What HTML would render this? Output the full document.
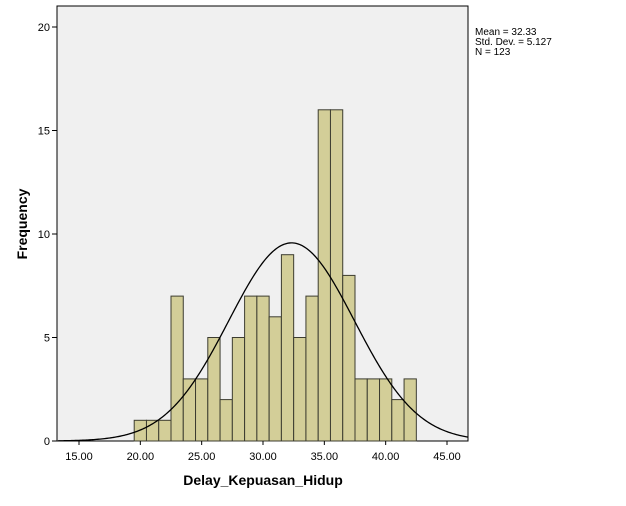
<!DOCTYPE html>
<html><head><meta charset="utf-8"><style>
body{margin:0;background:#fff;width:626px;height:501px;overflow:hidden;font-family:"Liberation Sans",sans-serif}
</style></head><body>
<svg width="626" height="501" xmlns="http://www.w3.org/2000/svg">
<rect x="57" y="6" width="411" height="435" fill="#f0f0f0" stroke="#000" stroke-width="1"/>
<g id="bars"></g>
<path id="curve" fill="none" stroke="#000" stroke-width="1.3"/>
<g id="xt"></g><g id="yt"></g>
<text x="263" y="485" font-size="14" font-weight="bold" text-anchor="middle">Delay_Kepuasan_Hidup</text>
<text transform="translate(27,224) rotate(-90)" font-size="14" font-weight="bold" text-anchor="middle">Frequency</text>
<g font-size="10">
<text x="475" y="35">Mean = 32.33</text>
<text x="475" y="45">Std. Dev. = 5.127</text>
<text x="475" y="55">N = 123</text>
</g>
</svg>
<script>
const binCenters=[20,21,22,23,24,25,26,27,28,29,30,31,32,33,34,35,36,37,38,39,40,41,42];
const counts=[1,1,1,7,3,3,5,2,5,7,7,6,9,5,7,16,16,8,3,3,3,2,3];
const xTicks=[15,20,25,30,35,40,45];
const xTickLabels=["15.00","20.00","25.00","30.00","35.00","40.00","45.00"];
const yTicks=[0,5,10,15,20];
const mean=32.33, sd=5.127, n=123, binWidth=1;
const X=v=>79+(v-15)*368/30;
const Y=v=>441-v*(414/20);
const ns="http://www.w3.org/2000/svg";
const bars=document.getElementById('bars');
binCenters.forEach((c,i)=>{
 const r=document.createElementNS(ns,'rect');
 
 
 r.setAttribute('x',X(c-binWidth/2));r.setAttribute('width',X(c+binWidth/2)-X(c-binWidth/2));
 r.setAttribute('y',Y(counts[i]));r.setAttribute('height',Y(0)-Y(counts[i]));
 r.setAttribute('fill','#d3ce98');r.setAttribute('stroke','#3c3c30');r.setAttribute('stroke-width','1');
 bars.appendChild(r);
});
let d='';
for(let x=13.3;x<=46.8;x+=0.1){
 const y=n*binWidth/(sd*Math.sqrt(2*Math.PI))*Math.exp(-0.5*((x-mean)/sd)**2);
 d+=(d?'L':'M')+X(x).toFixed(2)+','+Y(y).toFixed(2);
}
document.getElementById('curve').setAttribute('d',d);
const xt=document.getElementById('xt');
xTicks.forEach((t,i)=>{
 const l=document.createElementNS(ns,'line');
 
 
 l.setAttribute('x1',X(t));l.setAttribute('x2',X(t));l.setAttribute('y1',441);l.setAttribute('y2',445);l.setAttribute('stroke','#000');
 xt.appendChild(l);
 const tx=document.createElementNS(ns,'text');
 
 
 tx.setAttribute('x',X(t));tx.setAttribute('y',460);tx.setAttribute('font-size','11');tx.setAttribute('text-anchor','middle');
 tx.textContent=xTickLabels[i];xt.appendChild(tx);
});
const yt=document.getElementById('yt');
yTicks.forEach(t=>{
 const l=document.createElementNS(ns,'line');
 
 
 l.setAttribute('x1',52);l.setAttribute('x2',57);l.setAttribute('y1',Y(t));l.setAttribute('y2',Y(t));l.setAttribute('stroke','#000');
 yt.appendChild(l);
 const tx=document.createElementNS(ns,'text');
 
 
 tx.setAttribute('x',50);tx.setAttribute('y',Y(t)+4);tx.setAttribute('font-size','11');tx.setAttribute('text-anchor','end');
 tx.textContent=t;yt.appendChild(tx);
});
</script>
</body></html>
